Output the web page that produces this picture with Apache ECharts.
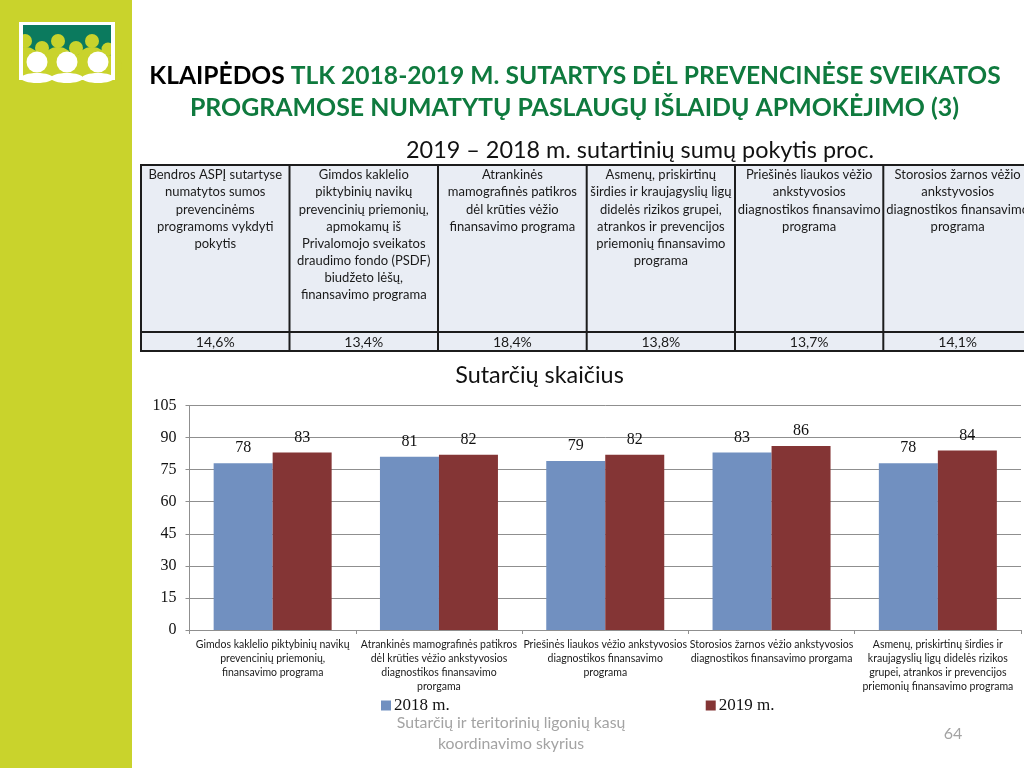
<!DOCTYPE html>
<html><head><meta charset="utf-8">
<style>html,body{margin:0;padding:0;background:#fff}#c{width:1024px;height:768px}</style>
<script src="https://cdn.jsdelivr.net/npm/echarts@6/dist/echarts.min.js"></script>
</head><body><div id="c"></div>
<script>
const categories = [
 "Gimdos kaklelio piktybinių navikų\nprevencinių priemonių,\nfinansavimo programa",
 "Atrankinės mamografinės patikros\ndėl krūties vėžio ankstyvosios\ndiagnostikos finansavimo\nprorgama",
 "Priešinės liaukos vėžio ankstyvosios\ndiagnostikos finansavimo\nprograma",
 "Storosios žarnos vėžio ankstyvosios\ndiagnostikos finansavimo prorgama",
 "Asmenų, priskirtinų širdies ir\nkraujagyslių ligų didelės rizikos\ngrupei, atrankos ir prevencijos\npriemonių finansavimo programa"
];
const values2018 = [78, 81, 79, 83, 78];
const values2019 = [83, 82, 82, 86, 84];
const tableHeaders = [
 "Bendros ASPĮ sutartyse\nnumatytos sumos\nprevencinėms\nprogramoms vykdyti\npokytis",
 "Gimdos kaklelio\npiktybinių navikų\nprevencinių priemonių,\napmokamų iš\nPrivalomojo sveikatos\ndraudimo fondo (PSDF)\nbiudžeto lėšų,\nfinansavimo programa",
 "Atrankinės\nmamografinės patikros\ndėl krūties vėžio\nfinansavimo programa",
 "Asmenų, priskirtinų\nširdies ir kraujagyslių ligų\ndidelės rizikos grupei,\natrankos ir prevencijos\npriemonių finansavimo\nprograma",
 "Priešinės liaukos vėžio\nankstyvosios\ndiagnostikos finansavimo\nprograma",
 "Storosios žarnos vėžio\nankstyvosios\ndiagnostikos finansavimo\nprograma"
];
const tableValues = ["14,6%", "13,4%", "18,4%", "13,8%", "13,7%", "14,1%"];
const colEdges = [141, 289.5, 438, 586.7, 735, 883.3, 1032];
const FONT = 'Lato, "Open Sans", sans-serif', SERIF = '"Liberation Serif", serif';
const LIME = '#c9d32c';

const g = [];
// sidebar + logo
g.push({type:'rect',shape:{x:0,y:0,width:132,height:768},style:{fill:LIME},silent:true});
g.push({type:'rect',shape:{x:23,y:25,width:88,height:52},style:{fill:LIME}});
g.push({type:'rect',shape:{x:23,y:25,width:88,height:31},style:{fill:'#0b7a5e'}});
[[25,41,7],[58,41,7],[92,41,7],[42,48,7],[76,48,7],[108,49,6.5]].forEach(c=>{
  g.push({type:'circle',shape:{cx:c[0],cy:c[1],r:c[2]},style:{fill:LIME}});
  g.push({type:'ellipse',shape:{cx:c[0],cy:c[1]+17,rx:14,ry:11},style:{fill:LIME}});
});
[[37,62],[67,62],[98,62]].forEach(c=>{
  g.push({type:'circle',shape:{cx:c[0],cy:c[1],r:10.5},style:{fill:'#fff'}});
  g.push({type:'ellipse',shape:{cx:c[0],cy:78,rx:16,ry:5},style:{fill:'#fff'}});
});
[[19,22,96,3],[19,77,96,3],[19,22,4,58],[111,22,4,58]].forEach(r=>g.push({type:'rect',shape:{x:r[0],y:r[1],width:r[2],height:r[3]},style:{fill:'#fff'}}));
// heading
g.push({type:'text',x:575,y:76,style:{x:0,y:0,align:'center',verticalAlign:'middle',
  text:'{k|KLAIPĖDOS }{g|TLK 2018-2019 M. SUTARTYS DĖL PREVENCINĖSE SVEIKATOS}',
  rich:{k:{fill:'#000',font:'bold 24.6px '+FONT},g:{fill:'#0f7a3e',font:'bold 24.6px '+FONT}}}});
g.push({type:'text',x:574.5,y:108,style:{align:'center',verticalAlign:'middle',
  text:'PROGRAMOSE NUMATYTŲ PASLAUGŲ IŠLAIDŲ APMOKĖJIMO (3)',fill:'#0f7a3e',font:'bold 24.9px '+FONT}});
g.push({type:'text',x:640,y:150,style:{align:'center',verticalAlign:'middle',
  text:'2019 – 2018 m. sutartinių sumų pokytis proc.',fill:'#111',font:'23.4px '+FONT}});
// table
const tTop=165,tMid=332,tBot=351;
g.push({type:'rect',shape:{x:colEdges[0],y:tTop,width:colEdges[6]-colEdges[0],height:tBot-tTop},style:{fill:'#e9edf4',stroke:'#1c1c1c',lineWidth:2}});
g.push({type:'line',shape:{x1:colEdges[0],y1:tMid,x2:colEdges[6],y2:tMid},style:{stroke:'#1c1c1c',lineWidth:2}});
colEdges.slice(1,6).forEach(x=>g.push({type:'line',shape:{x1:x,y1:tTop,x2:x,y2:tBot},style:{stroke:'#1c1c1c',lineWidth:2}}));
tableHeaders.forEach((t,i)=>{
  const cx=(colEdges[i]+colEdges[i+1])/2;
  g.push({type:'text',x:cx,y:166.5,style:{align:'center',verticalAlign:'top',text:t,fill:'#1a1a1a',font:'13px '+FONT,lineHeight:17.15}});
  g.push({type:'text',x:cx,y:342,style:{align:'center',verticalAlign:'middle',text:tableValues[i],fill:'#1a1a1a',font:'14px '+FONT}});
});
// footer
g.push({type:'text',x:511,y:733.5,style:{align:'center',verticalAlign:'middle',text:'Sutarčių ir teritorinių ligonių kasų\nkoordinavimo skyrius',fill:'#a3a3a3',font:'15.8px '+FONT,lineHeight:21}});
g.push({type:'text',x:953,y:734,style:{align:'center',verticalAlign:'middle',text:'64',fill:'#a3a3a3',font:'16px '+FONT}});

const labelStyle={show:true,position:'top',distance:7,color:'#111',fontFamily:SERIF,fontSize:16};
const chart=echarts.init(document.getElementById('c'),null,{renderer:'canvas'});
chart.setOption({
  animation:false,
  backgroundColor:'#fff',
  graphic:g,
  title:{text:'Sutarčių skaičius',left:534.5,top:358.5,textAlign:'center',textStyle:{fontFamily:FONT,fontWeight:'normal',fontSize:23.4,color:'#111'}},
  legend:{left:376,top:692,itemWidth:10,itemHeight:10,itemGap:256,icon:'rect',
    textStyle:{fontFamily:SERIF,fontSize:17,color:'#111',padding:[0,0,0,-2]},data:['2018 m.','2019 m.']},
  grid:{left:189.5,right:3,top:405.5,height:224.5,containLabel:false},
  xAxis:{type:'category',data:categories,
    axisLine:{lineStyle:{color:'#8f8f8f'}},
    axisTick:{show:true,alignWithLabel:false,length:4,lineStyle:{color:'#8f8f8f'}},
    axisLabel:{interval:0,fontFamily:FONT,fontSize:10.5,color:'#1a1a1a',lineHeight:14,margin:8}},
  yAxis:{type:'value',min:0,max:105,interval:15,
    axisLine:{show:true,lineStyle:{color:'#8f8f8f'}},
    axisTick:{show:true,length:4,lineStyle:{color:'#8f8f8f'}},
    splitLine:{lineStyle:{color:'#8f8f8f'}},
    axisLabel:{fontFamily:SERIF,fontSize:16,color:'#111',margin:13}},
  series:[
    {name:'2018 m.',type:'bar',data:values2018,barWidth:59,barGap:'0%',itemStyle:{color:'#7190c0'},label:labelStyle},
    {name:'2019 m.',type:'bar',data:values2019,barWidth:59,barGap:'0%',itemStyle:{color:'#843535'},label:labelStyle}
  ]
});
</script></body></html>
